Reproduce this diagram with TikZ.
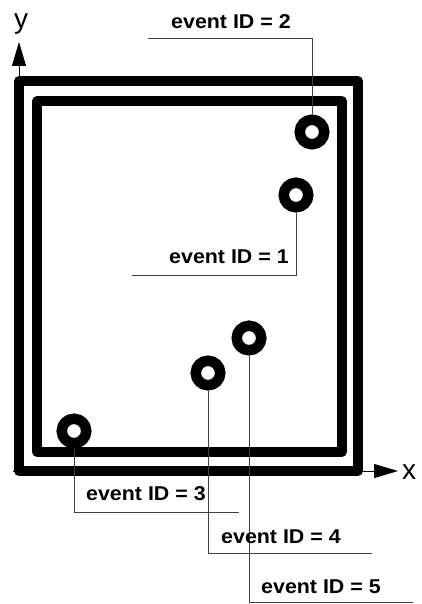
\documentclass[tikz,border=0pt]{standalone}
\usepackage{fontspec}
\setmainfont{Liberation Sans}
\newfontfamily\eventfont[FakeStretch=1.07]{Liberation Sans}
\usetikzlibrary{arrows.meta,positioning}

\begin{document}
\begin{tikzpicture}[
  x=1pt, y=-1pt,
  frame/.style={draw, line width=9.5pt, line join=round},
  ring/.style={circle, draw, line width=10.5pt, minimum size=24.5pt, inner sep=0pt},
  leader/.style={draw, line width=0.9pt, black!75},
  axis/.style={draw, line width=1pt, -{Triangle[length=24pt, width=14pt]}},
  idlabel/.style={anchor=base west, inner sep=0pt, font=\eventfont\fontsize{20}{24}\selectfont\bfseries},
  axlabel/.style={inner sep=0pt, font=\fontsize{28}{32}\selectfont}
]
\useasboundingbox (0,0) rectangle (422,604);

% axes
\coordinate (o) at (13,471);
\coordinate (xend) at (398,471);
\coordinate (yend) at (19,42);
\draw[axis] (o) -- (xend);
\draw[axis] (19,471) -- (yend);
\node[axlabel, anchor=base west] (xlab) at (402,479) {x};
\node[axlabel, anchor=base] (ylab) at (21,29) {y};

% frames
\draw[frame] (19,81) rectangle (358,471);
\draw[frame] (37,101) rectangle (342,452);

% leader ends
\coordinate (e1) at (132,275);
\coordinate (e2) at (148,38);
\coordinate (e3) at (239,512);
\coordinate (e4) at (372,553);
\coordinate (e5) at (413,602);

% events
\node[ring] (r1) at (296,195) {};
\node[ring] (r2) at (312,132) {};
\node[ring] (r3) at (74,431) {};
\node[ring] (r4) at (208,373) {};
\node[ring] (r5) at (249,338) {};

\draw[leader] (r1.south) |- (e1);
\draw[leader] (r2.north) |- (e2);
\draw[leader] (r3.south) |- (e3);
\draw[leader] (r4.south) |- (e4);
\draw[leader] (r5.south) |- (e5);

\node[idlabel] (l1) at (169,263) {event ID = 1};
\node[idlabel] (l2) at (171,29) {event ID = 2};
\node[idlabel] (l3) at (86,500) {event ID = 3};
\node[idlabel] (l4) at (221,543) {event ID = 4};
\node[idlabel] (l5) at (261,593) {event ID = 5};
\end{tikzpicture}
\end{document}
